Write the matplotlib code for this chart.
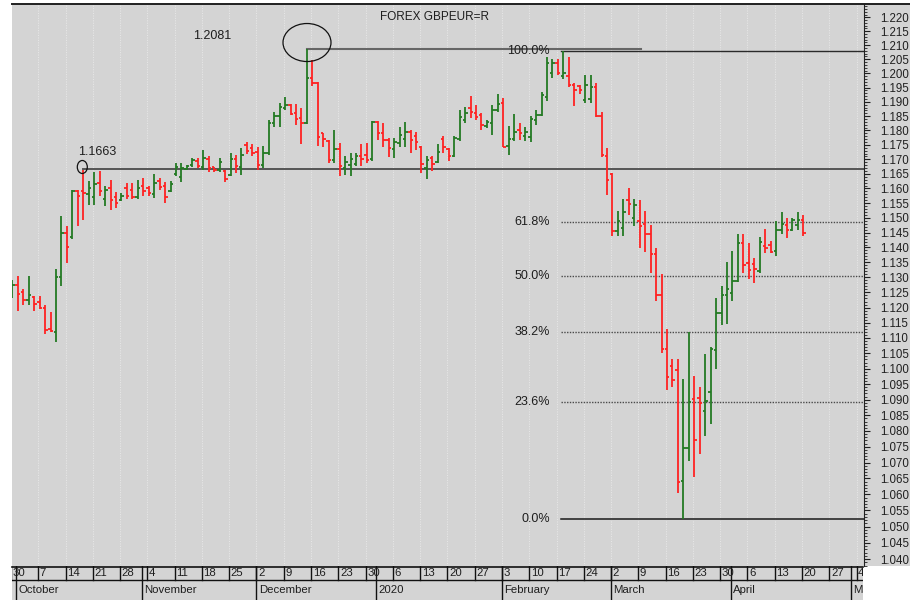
import numpy as np
import pandas as pd
import matplotlib
matplotlib.use('Agg')
import matplotlib.pyplot as plt
from matplotlib.collections import LineCollection
from matplotlib.patches import Ellipse, Rectangle
from matplotlib.lines import Line2D
import matplotlib.transforms as mtransforms
from matplotlib.ticker import FixedLocator, FixedFormatter, NullFormatter

plt.rcParams['font.family'] = ['Liberation Sans', 'DejaVu Sans']

# ---------------- data ----------------
title = 'FOREX GBPEUR=R'
start_date = '2019-09-30'

opens = [1.1237, 1.1276, 1.1250, 1.1225, 1.1235, 1.1220, 1.1200, 1.1130, 1.1120, 1.1300,
         1.1450, 1.1435, 1.1590, 1.1592, 1.1580, 1.1570, 1.1620, 1.1565, 1.1600, 1.1570,
         1.1560, 1.1600, 1.1595, 1.1570, 1.1610, 1.1600, 1.1580, 1.1625, 1.1610, 1.1590,
         1.1650, 1.1640, 1.1668, 1.1680, 1.1695, 1.1672, 1.1700, 1.1672, 1.1662, 1.1660,
         1.1645, 1.1700, 1.1672, 1.1750, 1.1740, 1.1725, 1.1681, 1.1721, 1.1825, 1.1850,
         1.1878, 1.1890, 1.1862, 1.1845, 1.1827, 1.1982, 1.1965, 1.1790, 1.1762, 1.1696,
         1.1735, 1.1670, 1.1680, 1.1685, 1.1712, 1.1715, 1.1700, 1.1828, 1.1790, 1.1767,
         1.1735, 1.1758, 1.1770, 1.1796, 1.1780, 1.1744, 1.1670, 1.1706, 1.1690, 1.1770,
         1.1736, 1.1712, 1.1770, 1.1835, 1.1880, 1.1860, 1.1855, 1.1815, 1.1825, 1.1870,
         1.1895, 1.1745, 1.1770, 1.1800, 1.1780, 1.1777, 1.1838, 1.1855, 1.1916, 1.2000,
         1.2036, 1.1990, 1.1990, 1.1960, 1.1955, 1.1906, 1.1910, 1.1953, 1.1850, 1.1712,
         1.1650, 1.1455, 1.1466, 1.1561, 1.1500, 1.1489, 1.1480, 1.1444, 1.1377, 1.1240,
         1.1065, 1.1010, 1.0995, 1.0643, 1.0745, 1.0902, 1.0905, 1.0865, 1.0925, 1.1060,
         1.1183, 1.1240, 1.1249, 1.1287, 1.1416, 1.1349, 1.1345, 1.1321, 1.1405, 1.1410,
         1.1388, 1.1460, 1.1477, 1.1460, 1.1475, 1.1494]
highs = [1.1290, 1.1304, 1.1260, 1.1306, 1.1238, 1.1238, 1.1208, 1.1186, 1.1328, 1.1507,
         1.1471, 1.1596, 1.1596, 1.1663, 1.1624, 1.1658, 1.1661, 1.1609, 1.1630, 1.1587,
         1.1583, 1.1619, 1.1619, 1.1630, 1.1636, 1.1607, 1.1650, 1.1636, 1.1621, 1.1624,
         1.1687, 1.1687, 1.1681, 1.1704, 1.1704, 1.1733, 1.1712, 1.1675, 1.1704, 1.1664,
         1.1723, 1.1716, 1.1740, 1.1760, 1.1754, 1.1743, 1.1746, 1.1836, 1.1865, 1.1897,
         1.1918, 1.1893, 1.1892, 1.1877, 1.2085, 1.2047, 1.1970, 1.1792, 1.1767, 1.1800,
         1.1758, 1.1710, 1.1721, 1.1723, 1.1752, 1.1756, 1.1834, 1.1832, 1.1825, 1.1773,
         1.1773, 1.1811, 1.1830, 1.1802, 1.1796, 1.1746, 1.1710, 1.1712, 1.1754, 1.1781,
         1.1740, 1.1779, 1.1873, 1.1883, 1.1920, 1.1890, 1.1862, 1.1838, 1.1889, 1.1926,
         1.1914, 1.1815, 1.1857, 1.1825, 1.1813, 1.1850, 1.1873, 1.1933, 1.2057, 1.2050,
         1.2050, 1.2078, 1.2057, 1.1965, 1.1959, 1.1994, 1.1995, 1.1967, 1.1865, 1.1738,
         1.1653, 1.1522, 1.1564, 1.1602, 1.1564, 1.1559, 1.1522, 1.1477, 1.1399, 1.1310,
         1.1130, 1.1033, 1.1033, 1.0966, 1.1118, 1.0975, 1.0940, 1.1047, 1.1069, 1.1233,
         1.1273, 1.1351, 1.1388, 1.1444, 1.1444, 1.1416, 1.1365, 1.1436, 1.1463, 1.1421,
         1.1489, 1.1519, 1.1500, 1.1500, 1.1519, 1.1511]
lows = [1.1230, 1.1190, 1.1207, 1.1210, 1.1190, 1.1194, 1.1112, 1.1118, 1.1087, 1.1273,
        1.1349, 1.1427, 1.1471, 1.1492, 1.1545, 1.1545, 1.1573, 1.1539, 1.1528, 1.1533,
        1.1556, 1.1564, 1.1564, 1.1564, 1.1573, 1.1573, 1.1567, 1.1596, 1.1552, 1.1587,
        1.1643, 1.1621, 1.1664, 1.1675, 1.1670, 1.1664, 1.1655, 1.1655, 1.1658, 1.1621,
        1.1641, 1.1653, 1.1647, 1.1720, 1.1712, 1.1662, 1.1670, 1.1716, 1.1811, 1.1811,
        1.1871, 1.1853, 1.1819, 1.1754, 1.1822, 1.1955, 1.1746, 1.1744, 1.1689, 1.1689,
        1.1642, 1.1647, 1.1642, 1.1676, 1.1676, 1.1687, 1.1693, 1.1767, 1.1744, 1.1708,
        1.1704, 1.1742, 1.1744, 1.1721, 1.1733, 1.1653, 1.1632, 1.1661, 1.1688, 1.1721,
        1.1693, 1.1708, 1.1765, 1.1825, 1.1842, 1.1836, 1.1800, 1.1808, 1.1785, 1.1864,
        1.1742, 1.1716, 1.1765, 1.1767, 1.1765, 1.1761, 1.1819, 1.1850, 1.1904, 1.1985,
        1.1994, 1.1979, 1.1953, 1.1885, 1.1927, 1.1897, 1.1897, 1.1846, 1.1708, 1.1577,
        1.1440, 1.1440, 1.1438, 1.1511, 1.1472, 1.1397, 1.1385, 1.1315, 1.1222, 1.1052,
        1.0931, 1.0940, 1.0604, 1.0524, 1.0706, 1.0653, 1.0727, 1.0785, 1.0822, 1.0998,
        1.1141, 1.1145, 1.1222, 1.1284, 1.1315, 1.1293, 1.1280, 1.1315, 1.1382, 1.1382,
        1.1371, 1.1444, 1.1433, 1.1455, 1.1460, 1.1440]
closes = [1.1276, 1.1245, 1.1225, 1.1243, 1.1212, 1.1200, 1.1125, 1.1122, 1.1300, 1.1450,
          1.1400, 1.1590, 1.1575, 1.1585, 1.1600, 1.1615, 1.1590, 1.1595, 1.1560, 1.1550,
          1.1575, 1.1575, 1.1570, 1.1600, 1.1590, 1.1585, 1.1620, 1.1605, 1.1570, 1.1615,
          1.1675, 1.1670, 1.1676, 1.1698, 1.1676, 1.1705, 1.1670, 1.1662, 1.1690, 1.1632,
          1.1700, 1.1678, 1.1715, 1.1728, 1.1722, 1.1680, 1.1721, 1.1825, 1.1850, 1.1883,
          1.1890, 1.1859, 1.1840, 1.1827, 1.1982, 1.1965, 1.1777, 1.1770, 1.1696, 1.1735,
          1.1676, 1.1690, 1.1700, 1.1710, 1.1700, 1.1698, 1.1830, 1.1790, 1.1767, 1.1738,
          1.1761, 1.1785, 1.1796, 1.1767, 1.1760, 1.1684, 1.1696, 1.1685, 1.1727, 1.1742,
          1.1710, 1.1773, 1.1846, 1.1860, 1.1865, 1.1846, 1.1819, 1.1828, 1.1871, 1.1894,
          1.1744, 1.1770, 1.1795, 1.1790, 1.1795, 1.1840, 1.1855, 1.1925, 1.2036, 1.2036,
          1.2002, 1.2003, 1.1959, 1.1943, 1.1941, 1.1960, 1.1953, 1.1850, 1.1716, 1.1630,
          1.1455, 1.1490, 1.1520, 1.1546, 1.1543, 1.1474, 1.1444, 1.1377, 1.1240, 1.1063,
          1.0972, 1.0964, 1.0640, 1.0745, 1.0893, 1.0772, 1.0890, 1.0897, 1.1065, 1.1183,
          1.1240, 1.1260, 1.1287, 1.1416, 1.1340, 1.1326, 1.1328, 1.1420, 1.1399, 1.1385,
          1.1460, 1.1480, 1.1458, 1.1494, 1.1494, 1.1449]

# reference levels
oct_high_level = 1.1668
oct_high_label = '1.1663'
oct_high_bar = 13
dec_high_level = 1.2085
dec_high_label = '1.2081'
dec_high_bar = 54
feb_high_bar = 101
fib_labels = ['0.0%', '23.6%', '38.2%', '50.0%', '61.8%', '100.0%']
fib_levels = [1.0523, 1.0893, 1.1119, 1.1304, 1.1486, 1.2079]
month_names = ['October', 'November', 'December', '2020', 'February', 'March', 'April', 'May']
price_ticks = [round(1.040 + 0.005 * i, 3) for i in range(37)]

# ---------------- layout ----------------
W, H = 910, 600
BG = '#d4d4d4'
TXT = '#1e1e1e'
PXU = 5.455          # pixels per trading day
U0 = 0.183           # x-axis offset

def fx(px):
    return px / W

def fy(py):
    return 1 - py / H

def u_of(px):        # pixel x -> index units
    return (px - 12) / PXU + U0

fig = plt.figure(figsize=(9.1, 6.0), dpi=100, facecolor='white')
fig.patches.append(Rectangle((fx(12), fy(566)), 1 - fx(12), fy(4) - fy(566),
                             transform=fig.transFigure, facecolor=BG,
                             edgecolor='none', zorder=-5))
fig.add_artist(Line2D([fx(12), 1], [fy(3.5), fy(3.5)], color='#202020', lw=1.4,
                      transform=fig.transFigure))

ax = fig.add_axes([fx(12), fy(566), fx(864) - fx(12), fy(4) - fy(566)])
ax.set_facecolor(BG)
ax.set_yscale('log')
xmax = U0 + 852 / PXU
ax.set_xlim(U0, xmax)
ax.set_ylim(1.03788, 1.22479)

# weekly grid
dates = pd.bdate_range(start_date, periods=160)
mondays = [i for i, d in enumerate(dates) if d.weekday() == 0]
for m in mondays[1:]:
    ax.axvline(m, color='#e6e6e6', lw=0.8, ls=(0, (1, 1.2)), zorder=1)

# OHLC bars
n = len(opens)
xs = np.arange(n) + 0.25
segs, cols = [], []
for x, o, h, l, c in zip(xs, opens, highs, lows, closes):
    col = '#237a23' if c >= o else '#ff2222'
    segs += [[(x, l), (x, h)], [(x - 0.45, o), (x, o)], [(x, c), (x + 0.45, c)]]
    cols += [col] * 3
ax.add_collection(LineCollection(segs, colors=cols, linewidths=1.3, zorder=3,
                                 capstyle='butt'))

# reference lines
ax.plot([oct_high_bar + 0.25, xmax], [oct_high_level] * 2, color='#555555', lw=1.4, zorder=2)
ax.plot([dec_high_bar + 0.25, u_of(641)], [dec_high_level] * 2, color='#666666', lw=1.5, zorder=2)
fib_start = u_of(561)
ax.plot([fib_start, xmax], [fib_levels[-1]] * 2, color='#2a2a2a', lw=1.0, zorder=2)
ax.plot([fib_start, xmax], [fib_levels[0]] * 2, color='#1a1a1a', lw=1.1, zorder=2)
for lev in fib_levels[1:-1]:
    ax.plot([fib_start, xmax], [lev] * 2, color='#4a4a4a', lw=1.0,
            ls=(0, (1, 1)), zorder=2)
for lab, lev in zip(fib_labels, fib_levels):
    ax.text(u_of(550), lev, lab, ha='right', va='center', fontsize=9, color=TXT, zorder=4)

ax.text(u_of(193), 1.2133, dec_high_label, ha='left', va='center', fontsize=9, color=TXT)
ax.text(u_of(78), 1.1726, oct_high_label, ha='left', va='center', fontsize=9, color=TXT)

def px_ellipse(u, p, wpx, hpx):
    trans = fig.dpi_scale_trans + mtransforms.ScaledTranslation(u, p, ax.transData)
    e = Ellipse((0, 0), wpx / 100, hpx / 100, transform=trans, fill=False,
                edgecolor='#111111', lw=0.9, zorder=5)
    ax.add_artist(e)

px_ellipse(u_of(82.3), 1.16736, 10, 13)
px_ellipse(u_of(307), 1.21097, 48, 38)

fig.text(fx(435), fy(17.5), title, ha='center', va='center', fontsize=8.5, color=TXT)

# right price axis
ax.yaxis.tick_right()
ax.yaxis.set_major_locator(FixedLocator(price_ticks))
ax.yaxis.set_major_formatter(FixedFormatter([f'{t:.3f}' for t in price_ticks]))
ax.yaxis.set_minor_locator(FixedLocator([round(1.038 + 0.001 * i, 3) for i in range(187)]))
ax.yaxis.set_minor_formatter(NullFormatter())
ax.tick_params(axis='y', which='major', direction='out', length=4.3, width=0.8,
               colors='#202020', labelsize=8.3, pad=7)
ax.tick_params(axis='y', which='minor', direction='out', length=2.2, width=0.6,
               colors='#202020')
ax.tick_params(axis='x', bottom=False, labelbottom=False, top=False)
for s in ['left', 'top', 'bottom']:
    ax.spines[s].set_visible(False)
ax.spines['right'].set_color('#202020')
ax.spines['right'].set_linewidth(0.8)

# date axis
dax = fig.add_axes([fx(12), 0, fx(863) - fx(12), fy(566)])
dax.set_facecolor(BG)
dax.set_xlim(U0, U0 + 851 / PXU)
dax.set_ylim(0, 1)
dax.set_xticks([])
dax.set_yticks([])
for s in dax.spines.values():
    s.set_visible(False)
mid = 0.588
dax.add_line(Line2D([U0, U0 + 851 / PXU], [0.985, 0.985], color='#111111', lw=1.2, clip_on=False))
dax.axhline(mid, color='#111111', lw=1.0)
month_starts = [i for i in range(1, len(dates)) if dates[i].month != dates[i - 1].month]
for m in mondays:
    dax.plot([m, m], [mid, 1], color='#111111', lw=1.0)
    dax.text(m + 0.3, (mid + 1) / 2, str(dates[m].day), ha='left', va='center',
             fontsize=8.2, color=TXT, clip_on=True)
for ms, name in zip(month_starts, month_names):
    dax.plot([ms, ms], [0, 1], color='#111111', lw=1.0)
    dax.text(ms + 0.4, mid / 2, name, ha='left', va='center', fontsize=8.2,
             color=TXT, clip_on=True)

fig.savefig('out.png', dpi=100, facecolor='white')
